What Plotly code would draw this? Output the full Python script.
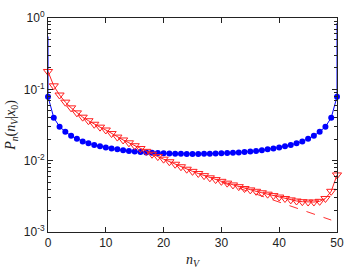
import plotly.graph_objects as go

n_values = list(range(51))

blue_half = [0.079, 0.040, 0.030, 0.0254, 0.0223, 0.0203, 0.0186, 0.0175, 0.0166, 0.0159,
             0.0153, 0.0148, 0.0144, 0.0140, 0.0137, 0.0134, 0.0132, 0.0130, 0.0129, 0.0128,
             0.0127, 0.0126, 0.0125, 0.0125, 0.0124, 0.0124]
blue_values = blue_half + blue_half[-2::-1]

red_values = [0.178, 0.112, 0.0832, 0.0661, 0.0550, 0.0468, 0.0407, 0.0363, 0.0324, 0.0295,
              0.0269, 0.0240, 0.0214, 0.0195, 0.0178, 0.0162, 0.0148, 0.0135, 0.0123, 0.0114,
              0.0105, 0.00966, 0.00891, 0.00822, 0.00759, 0.00708, 0.00661, 0.00617, 0.00575, 0.00543,
              0.00513, 0.00484, 0.00457, 0.00432, 0.00407, 0.00389, 0.00372, 0.00355, 0.00339, 0.00324,
              0.00309, 0.00295, 0.00282, 0.00272, 0.00266, 0.00263, 0.00263, 0.00269, 0.00295, 0.00372,
              0.00631]

# continuous blue curve diverging at the edges
blue_curve_x = [0] + n_values + [50]
blue_curve_y = [0.55] + blue_values + [0.85]

# dashed exponential fit
fit_x = [30, 49]
fit_y = [0.0050, 0.00147]

y_tick_vals = [0.001, 0.01, 0.1, 1]
y_tick_text = ["10<sup>-3</sup>", "10<sup>-2</sup>", "10<sup>-1</sup>", "10<sup>0</sup>"]
y_minor_vals = [m * d for d in (0.001, 0.01, 0.1) for m in range(2, 10)]
x_tick_vals = [0, 10, 20, 30, 40, 50]

fig = go.Figure()
fig.add_trace(go.Scatter(x=fit_x, y=fit_y, mode="lines",
                         line=dict(color="#ff3030", width=1, dash="dash"), cliponaxis=False))
fig.add_trace(go.Scatter(x=blue_curve_x, y=blue_curve_y, mode="lines",
                         line=dict(color="#0000ff", width=1), cliponaxis=True))
fig.add_trace(go.Scatter(x=n_values, y=blue_values, mode="markers",
                         marker=dict(color="#0000ff", size=6, symbol="circle"), cliponaxis=False))
fig.add_trace(go.Scatter(x=n_values, y=red_values, mode="lines+markers",
                         line=dict(color="#ff2020", width=1),
                         marker=dict(symbol="triangle-down-open", size=8, color="#ff2020",
                                     line=dict(width=1)), cliponaxis=False))

axis_font = dict(family="Liberation Sans, Arial, sans-serif", size=12, color="#222222")

fig.update_layout(
    width=353, height=273,
    margin=dict(l=48, r=9, t=13, b=28),
    paper_bgcolor="white", plot_bgcolor="white",
    showlegend=False,
    font=axis_font,
)
fig.update_xaxes(
    range=[0, 50], tickvals=x_tick_vals,
    ticks="inside", ticklen=5, tickcolor="#222", mirror="ticks",
    showline=True, linecolor="#222", linewidth=1, showgrid=False, zeroline=False,
    tickfont=axis_font,
    title=dict(text="<i>n<sub>V</sub></i>", font=dict(family="Liberation Serif, serif", size=14), standoff=4),
)
fig.update_yaxes(
    type="log", range=[-3, 0], tickvals=y_tick_vals, ticktext=y_tick_text,
    ticks="inside", ticklen=5, tickcolor="#222", mirror="ticks",
    showline=True, linecolor="#222", linewidth=1, showgrid=False, zeroline=False,
    tickfont=axis_font,
    minor=dict(tickvals=y_minor_vals, ticks="inside", ticklen=3, tickcolor="#222", showgrid=False),
    title=dict(text="<i>P<sub>n</sub></i>(<i>n<sub>V</sub></i>|<i>x</i><sub>0</sub>)",
               font=dict(family="Liberation Serif, serif", size=14), standoff=4),
)

fig.write_html("out.html")
